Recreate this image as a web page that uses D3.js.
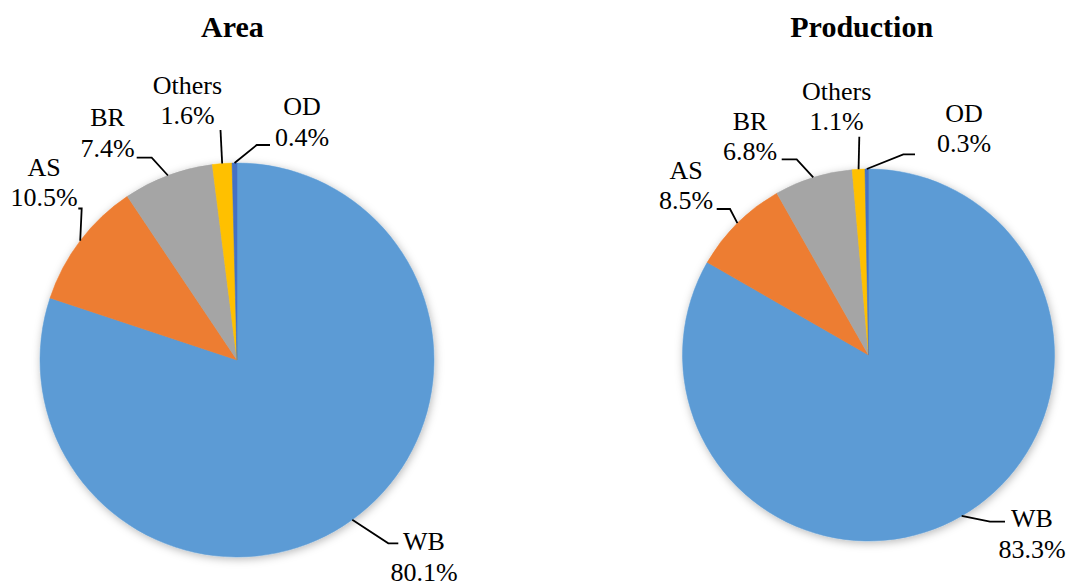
<!DOCTYPE html>
<html>
<head>
<meta charset="utf-8">
<script src="https://cdn.jsdelivr.net/npm/d3@7/dist/d3.min.js"></script>
<style>
  html, body { margin: 0; padding: 0; background: #ffffff; }
  svg { display: block; }
  svg text { font-family: "Liberation Serif", "Times New Roman", Tinos, "DejaVu Serif", serif; }
</style>
</head>
<body>
<svg id="chart" width="1071" height="585"></svg>
<script>
// ---- Data ----
const categories = ["WB", "AS", "BR", "Others", "OD"];
const areaValues = [80.1, 10.5, 7.4, 1.6, 0.4];
const productionValues = [83.3, 8.5, 6.8, 1.1, 0.3];
const chartTitles = ["Area", "Production"];

// ---- Styles ----
const sliceColors = ["#5B9BD5", "#ED7D31", "#A5A5A5", "#FFC000", "#4472C4"];

// ---- Layout (label placement) ----
const pieLayouts = [
  { cx: 237, cy: 360, r: 197, titleX: 232.5, titleY: 37,
    labels: [
      { tx: 424,   ty: 550,   pts: [[388.3, 543.3], [398.3, 543.3]] },
      { tx: 44,    ty: 175.5, pts: [[81.7, 208.5], [78.3, 208.5]] },
      { tx: 107.5, ty: 126,   pts: [[151.7, 157.7], [136.7, 157.7]] },
      { tx: 187.5, ty: 93.5,  pts: [[220.5, 130]] },
      { tx: 302,   ty: 115,   pts: [[256.7, 145], [270, 145]] }
    ] },
  { cx: 868.5, cy: 355, r: 186, titleX: 861.7, titleY: 37,
    labels: [
      { tx: 1032,  ty: 527,   pts: [[990, 521.7], [1005, 521.7]] },
      { tx: 686,   ty: 178.5, pts: [[730, 209], [716.7, 209]] },
      { tx: 750,   ty: 129.5, pts: [[796.7, 159.3], [781.7, 159.3]] },
      { tx: 836.7, ty: 99.5,  pts: [[859.3, 136.7]] },
      { tx: 964,   ty: 121.7, pts: [[903.3, 154.3], [915, 154.3]] }
    ] }
];
const seriesList = [areaValues, productionValues];

const svg = d3.select("#chart");
const defs = svg.append("defs");
const shadow = defs.append("filter").attr("id", "pieShadow")
  .attr("x", "-20%").attr("y", "-20%").attr("width", "140%").attr("height", "140%");
shadow.append("feDropShadow")
  .attr("dx", 1).attr("dy", 2).attr("stdDeviation", 4)
  .attr("flood-color", "#000").attr("flood-opacity", 0.28);

const color = d3.scaleOrdinal().domain(categories).range(sliceColors);
const pie = d3.pie().sort(null).value(d => d.value).startAngle(0).endAngle(2 * Math.PI);

seriesList.forEach((values, i) => {
  const L = pieLayouts[i];
  const data = categories.map((c, j) => ({ cat: c, value: values[j] }));
  const arcs = pie(data);
  const arc = d3.arc().innerRadius(0).outerRadius(L.r);
  const edge = d3.arc().innerRadius(L.r).outerRadius(L.r);

  const g = svg.append("g").attr("transform", `translate(${L.cx},${L.cy})`);
  const slices = g.append("g").attr("filter", "url(#pieShadow)");
  slices.selectAll("path").data(arcs).join("path")
    .attr("d", arc)
    .attr("fill", d => color(d.data.cat))
    .attr("stroke", d => color(d.data.cat))
    .attr("stroke-width", 0.5);

  // Title
  svg.append("text")
    .attr("x", L.titleX).attr("y", L.titleY)
    .attr("text-anchor", "middle")
    .attr("font-weight", "bold")
    .attr("font-size", 30)
    .attr("fill", "#000")
    .text(chartTitles[i]);

  // Leader lines and labels
  const line = d3.line();
  arcs.forEach((d, j) => {
    const lab = L.labels[j];
    const c = edge.centroid(d);
    const start = [L.cx + c[0], L.cy + c[1]];
    svg.append("path")
      .attr("d", line([start, ...lab.pts]))
      .attr("fill", "none")
      .attr("stroke", "#000")
      .attr("stroke-width", 1.8);
    const t = svg.append("text")
      .attr("text-anchor", "middle")
      .attr("font-size", 26)
      .attr("fill", "#000");
    t.append("tspan").attr("x", lab.tx).attr("y", lab.ty).text(d.data.cat);
    t.append("tspan").attr("x", lab.tx).attr("y", lab.ty + 30.5)
      .text(d3.format(".1f")(d.data.value) + "%");
  });
});
</script>
</body>
</html>
